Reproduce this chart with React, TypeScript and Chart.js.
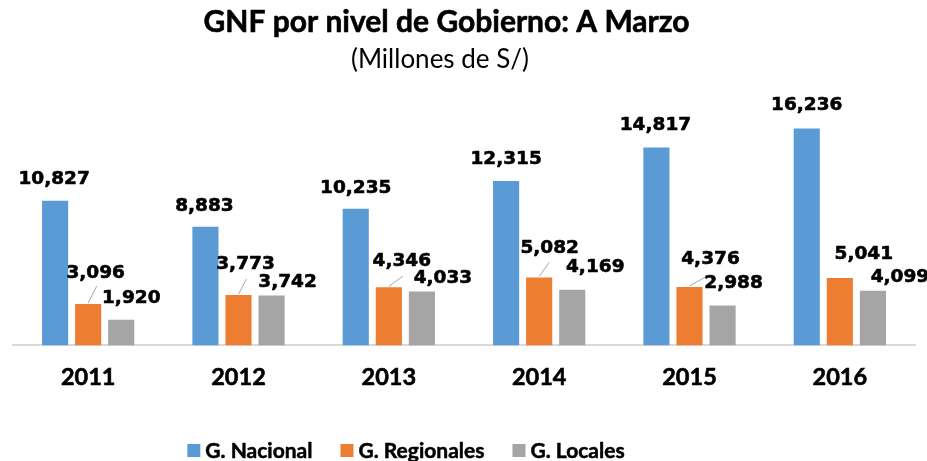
import React, { useEffect, useRef } from "react";
import { Chart, registerables } from "chart.js";

Chart.register(...registerables);

const categories = ["2011", "2012", "2013", "2014", "2015", "2016"];
const nacional = [10827, 8883, 10235, 12315, 14817, 16236];
const regionales = [3096, 3773, 4346, 5082, 4376, 5041];
const locales = [1920, 3742, 4033, 4169, 2988, 4099];
const seriesNames = ["G. Nacional", "G. Regionales", "G. Locales"];
const seriesColors = ["#5B9BD5", "#ED7D31", "#A5A5A5"];

const titleText = "GNF por nivel de Gobierno: A Marzo";
const subtitleText = "(Millones de S/)";

// label placement relative to bar (center x, top y)
const labelOffsets: number[][][] = [
  [[-1, -23], [-1, -22], [0, -22], [0, -24], [-1, -24], [0, -25]],
  [[7.5, -33], [7, -33], [13, -28], [10.5, -31], [21, -30], [24, -26]],
  [[10, -23], [16, -15], [21, -15], [23, -24], [11, -24], [27, -15]],
];
// leader lines for the orange series (end point relative to bar center/top)
const leaderEnds: (number[] | null)[] = [[8.5, -18], [8, -16], [14, -11], [10, -15], [16, -10], null];

const fmt = (v: number) => v.toLocaleString("en-US");

const overlayPlugin = {
  id: "overlay",
  afterDatasetsDraw(chart: any) {
    const ctx: CanvasRenderingContext2D = chart.ctx;
    ctx.save();
    // data labels
    ctx.font = "bold 18.5px 'DejaVu Sans'";
    ctx.fillStyle = "#000";
    ctx.textAlign = "center";
    ctx.textBaseline = "alphabetic";
    ctx.lineJoin = "round";
    chart.data.datasets.forEach((ds: any, di: number) => {
      const meta = chart.getDatasetMeta(di);
      meta.data.forEach((el: any, i: number) => {
        const off = labelOffsets[di][i];
        const x = el.x + off[0];
        const y = el.y + off[1];
        if (di === 1 && leaderEnds[i]) {
          const le = leaderEnds[i] as number[];
          ctx.strokeStyle = "#A6A6A6";
          ctx.lineWidth = 1;
          ctx.beginPath();
          ctx.moveTo(el.x, el.y - 1);
          ctx.lineTo(el.x + le[0], el.y + le[1]);
          ctx.stroke();
        }
        ctx.strokeStyle = "#000";
        ctx.lineWidth = 0.6;
        ctx.fillText(fmt(ds.data[i]), x, y + 6.7);
        ctx.strokeText(fmt(ds.data[i]), x, y + 6.7);
      });
    });

    // title + subtitle
    ctx.fillStyle = "#000";
    ctx.strokeStyle = "#000";
    ctx.font = "bold 30px Lato";
    ctx.lineWidth = 0.6;
    ctx.fillText(titleText, 446.5, 32);
    ctx.strokeText(titleText, 446.5, 32);
    ctx.font = "26px Lato";
    ctx.fillText(subtitleText, 440, 68);

    // legend
    ctx.font = "bold 21px Lato";
    const box = 13;
    const gap = 5;
    const spacing = 28;
    const widths = seriesNames.map((n) => ctx.measureText(n).width);
    const total = widths.reduce((a, w) => a + box + gap + w, 0) + spacing * (seriesNames.length - 1);
    let cx = 406 - total / 2;
    const baseY = 458;
    ctx.textAlign = "left";
    ctx.lineWidth = 0.5;
    seriesNames.forEach((n, i) => {
      ctx.fillStyle = seriesColors[i];
      ctx.fillRect(cx, baseY - 14, box, box);
      cx += box + gap;
      ctx.fillStyle = "#000";
      ctx.fillText(n, cx, baseY);
      ctx.strokeText(n, cx, baseY);
      cx += widths[i] + spacing;
    });
    ctx.restore();
  },
};

export default function App() {
  const canvasRef = useRef<HTMLCanvasElement | null>(null);

  useEffect(() => {
    document.body.style.margin = "0";
    const canvas = canvasRef.current;
    if (!canvas) return;
    const chart = new Chart(canvas, {
      type: "bar",
      data: {
        labels: categories,
        datasets: [nacional, regionales, locales].map((d, i) => ({
          label: seriesNames[i],
          data: d,
          backgroundColor: seriesColors[i],
          borderWidth: 0,
          categoryPercentage: 0.66,
          barPercentage: 0.79,
        })),
      },
      options: {
        animation: false,
        responsive: false,
        devicePixelRatio: 1,
        layout: { padding: { left: 13, right: 12, top: 105, bottom: 51.4 } },
        plugins: {
          legend: { display: false },
          title: { display: false },
          tooltip: { enabled: false },
        },
        scales: {
          x: {
            grid: { display: false, drawTicks: false, tickLength: 0 },
            border: { display: true, color: "#D9D9D9", width: 2 },
            ticks: {
              color: "#000",
              padding: 18,
              textStrokeColor: "#000",
              textStrokeWidth: 0.6,
              font: { family: "Lato", weight: "bold", size: 23.5 },
            },
          },
          y: {
            display: false,
            min: 0,
            max: 18000,
          },
        },
      },
      plugins: [overlayPlugin],
    });
    return () => chart.destroy();
  }, []);

  return (
    <div style={{ width: 927, height: 461 }}>
      <canvas ref={canvasRef} width={927} height={461} />
    </div>
  );
}
